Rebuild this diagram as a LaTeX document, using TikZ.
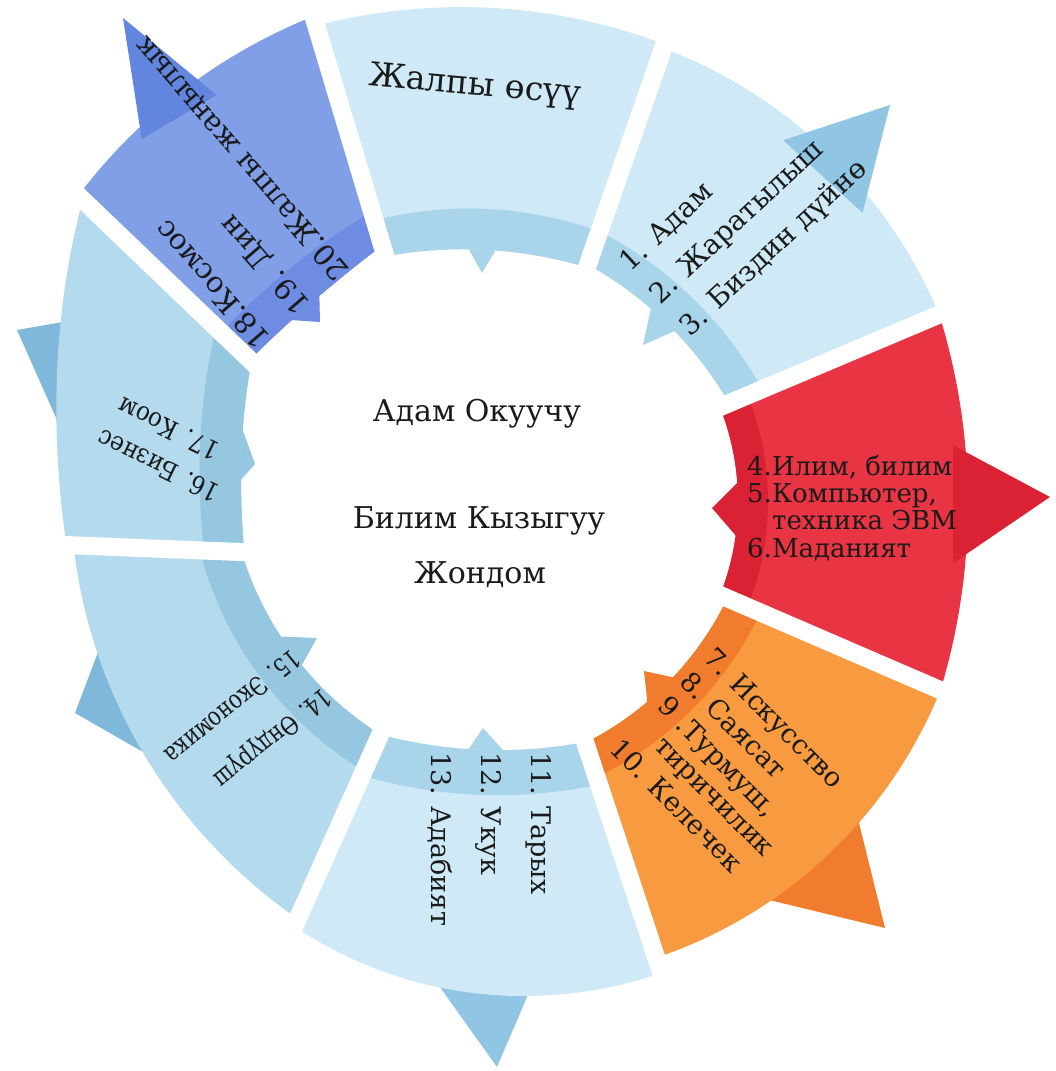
\documentclass[tikz,border=0pt]{standalone}
\usepackage{fontspec}
\setmainfont{DejaVu Serif}
\usetikzlibrary{calc}
\definecolor{lbA}{HTML}{CFEAF6}
\definecolor{lbB}{HTML}{A9D5EB}
\definecolor{lbC}{HTML}{90C6E4}
\definecolor{mbA}{HTML}{B4DAED}
\definecolor{mbB}{HTML}{95C7E1}
\definecolor{mbC}{HTML}{80B8DC}
\definecolor{puA}{HTML}{809FE7}
\definecolor{puB}{HTML}{6D8CE2}
\definecolor{puC}{HTML}{6285DE}
\definecolor{rdA}{HTML}{E93444}
\definecolor{rdB}{HTML}{DB2134}
\definecolor{orA}{HTML}{F89A40}
\definecolor{orB}{HTML}{F27C2E}
\definecolor{txt}{HTML}{1A1A1A}
\newcommand{\notch}[4]{\fill[#1] #2 -- ($#2!2!#3$) -- ($#2!2!#4$) -- cycle;}
\newcommand{\headbehind}[4]{\fill[#1] #2 -- ($#2!1.5!#3$) -- ($#2!1.5!#4$) -- cycle;}
\newcommand{\headtop}[4]{\fill[#1] #2 -- ($#2!1.1!#3$) -- ($#2!1.1!#4$) -- cycle;}
\begin{document}
\begin{tikzpicture}[x=1pt,y=1pt,
  arcout/.style n args={5}{insert path={plot[domain=0:1,samples=60,variable=\myt]
     ({(#1)+((#2)-(#1))*\myt}:{(#3)+((#5)-(#3))*\myt+4*((#4)-((#3)+(#5))/2)*\myt*(1-\myt)})}},
  arcin/.style n args={5}{insert path={-- plot[domain=0:1,samples=60,variable=\myt]
     ({(#1)+((#2)-(#1))*(1-\myt)}:{(#3)+((#5)-(#3))*(1-\myt)+4*((#4)-((#3)+(#5))/2)*\myt*(1-\myt)}) -- cycle}},
  lbl/.style={font=\fontsize{#1}{#1}\selectfont, text=txt, inner sep=0pt, anchor=base west},
  lbl/.default=26,
  ctr/.style={font=\fontsize{30}{30}\selectfont, text=txt, inner sep=0pt, anchor=base},
  gap/.style={white, line width=18pt},
]
\useasboundingbox (-490,-571) rectangle (566,500);
\fill[white] (-490,-571) rectangle (566,500);

% ---- arrow heads behind the segments
\headbehind{orB}{(395,-428)}{(300,-405)}{(370,-327)}
\headbehind{lbC}{(7,-567)}{(-43,-497)}{(40,-490)}
\headbehind{mbC}{(-415,-213)}{(-390,-147)}{(-347,-252)}
\headbehind{mbC}{(-473,170)}{(-433,177)}{(-433,80)}

% ---- inner notches
\notch{lbB}{(-8,227)}{(-22,252)}{(7,252)}
\notch{lbB}{(153,155)}{(160,187)}{(187,170)}
\notch{rdB}{(222,-8)}{(250,20)}{(247,-37)}
\notch{orB}{(154,-171)}{(187.5,-178.3)}{(157.7,-205.1)}
\notch{lbB}{(-7,-228)}{(-22,-250)}{(13,-250)}
\notch{mbB}{(-173,-138)}{(-197,-137)}{(-187,-163)}
\notch{mbB}{(-235,36)}{(-248,72)}{(-251,18)}
\notch{puB}{(-170,178)}{(-199.7,180)}{(-170.7,207.6)}

% ---- segments
\fill[lbA] [arcout={69}{110}{488}{492}{505}] [arcin={67.4}{113.2}{252}{250}{265}];
\fill[lbB] [arcout={67.4}{113.2}{290}{291}{303}] [arcin={67.4}{113.2}{252}{250}{265}];

\fill[lbA] [arcout={22.4}{69}{486}{485}{484}] [arcin={22}{67.4}{258}{250}{255}];
\fill[lbB] [arcout={22}{67.4}{294}{286}{290}] [arcin={22}{67.4}{258}{250}{255}];

\fill[rdA] [arcout={-22.9}{22.4}{489}{478}{486}] [arcin={-22.4}{22}{249}{248}{248}];
\fill[rdB] [arcout={-22.4}{22}{279}{278}{278}] [arcin={-22.4}{22}{249}{248}{248}];

\fill[orA] [arcout={-70.1}{-22.9}{487}{490}{489}] [arcin={-68.6}{-22.4}{261}{255}{257}];
\fill[orB] [arcout={-68.6}{-22.4}{297}{291}{293}] [arcin={-68.6}{-22.4}{261}{255}{257}];

\fill[lbA] [arcout={245.35}{289.9}{469}{493}{503}] [arcin={244.9}{291.4}{259}{250}{260}];
\fill[lbB] [arcout={244.9}{291.4}{304}{295}{305}] [arcin={244.9}{291.4}{259}{250}{260}];

\fill[mbA] [arcout={186}{245.35}{419}{429}{461}] [arcin={191.75}{244.9}{254}{250}{259}];
\fill[mbB] [arcout={191.75}{244.9}{294}{290}{299}] [arcin={191.75}{244.9}{254}{250}{259}];

\fill[mbA] [arcout={143.6}{186}{506}{449}{426}] [arcin={149.7}{191.75}{276}{252}{251}];
\fill[mbB] [arcout={149.7}{191.75}{320}{294}{291}] [arcin={149.7}{191.75}{276}{252}{251}];

\fill[puA] [arcout={110}{143.6}{515}{512}{512}] [arcin={113.2}{149.7}{276}{266}{278}];
\fill[puB] [arcout={113.2}{149.7}{311}{306}{318}] [arcin={113.2}{149.7}{276}{266}{278}];

% ---- arrow heads on top
\headtop{lbC}{(400,395)}{(303,363)}{(375,297)}
\headtop{rdB}{(560,3)}{(472,50)}{(472,-57)}
\headtop{puC}{(-367,482)}{(-350,372)}{(-282,412)}

% ---- gaps
\draw[gap] ($(97,233)!-0.6!(175,457)$) -- ($(97,233)!1.5!(175,457)$);
\draw[gap] ($(235,95)!-0.6!(460,190)$) -- ($(235,95)!1.5!(460,190)$);
\draw[gap] ($(230,-95)!-0.6!(450,-190)$) -- ($(230,-95)!1.5!(450,-190)$);
\draw[gap] ($(95,-242)!-0.6!(172,-475)$) -- ($(95,-242)!1.5!(172,-475)$);
\draw[gap] ($(-110,-235)!-0.6!(-195,-425)$) -- ($(-110,-235)!1.5!(-195,-425)$);
\draw[gap] ($(-250,-52)!-0.6!(-425,-45)$) -- ($(-250,-52)!1.5!(-425,-45)$);
\draw[gap] ($(-240,140)!-0.6!(-407,300)$) -- ($(-240,140)!1.5!(-407,300)$);
\draw[gap] ($(-105,245)!-0.6!(-180,495)$) -- ($(-105,245)!1.5!(-180,495)$);

% ---- centre text
\node[ctr] (c1) at (-13,78) {Адам Окуучу};
\node[ctr] (c2) at (-11,-28) {Билим Кызыгуу};
\node[ctr] (c3) at (-10,-83) {Жондом};

% ---- segment texts
\node[font=\fontsize{33}{33}\selectfont, text=txt, inner sep=0pt, anchor=base, rotate=-5] (t0) at (-16,405) {Жалпы өсүү};

\begin{scope}[shift={(140,227)}, rotate=43, transform shape]
\node[lbl=28] (t1) at (0,0) {1. Адам};
\node[lbl=28] (t2) at (0,-44) {2. Жаратылыш};
\node[lbl=28] (t3) at (0,-88) {3. Биздин дүйнө};
\end{scope}

\node[lbl] (t4) at (257,25) {4.Илим, билим};
\node[lbl] (t5) at (257,-2.3) {5.Компьютер,};
\node[lbl] (t5b) at (282,-29.6) {техника ЭВМ};
\node[lbl] (t6) at (257,-57) {6.Маданият};

\begin{scope}[shift={(212,-159)}, rotate=-45, transform shape]
\node[lbl=27] (t7) at (0,0) {7. Искусство};
\node[lbl=27] (t8) at (0,-34) {8. Саясат};
\node[lbl=27] (t9) at (2,-67) {9 .Турмуш,};
\node[lbl=27] (t9b) at (28,-97) {тиричилик};
\node[lbl=27] (t10) at (-2,-131) {10. Келечек};
\end{scope}

\begin{scope}[shift={(42,-252)}, rotate=-90, transform shape]
\node[lbl=27] (t11) at (0,0) {11. Тарых};
\node[lbl=27] (t12) at (0,-50) {12. Укук};
\node[lbl=27] (t13) at (0,-100) {13. Адабият};
\end{scope}

\begin{scope}[shift={(-167,-187)}, rotate=219, xscale=0.8, transform shape]
\node[lbl=26] (t14) at (0,0) {14. Өндүрүш};
\node[lbl=26] (t15) at (0,-50) {15. Экономика};
\end{scope}

\begin{scope}[shift={(-268,13)}, rotate=154, xscale=0.88, transform shape]
\node[lbl=26] (t16) at (0,0) {16. Бизнес};
\node[lbl=26] (t17) at (21,-38) {17. Коом};
\end{scope}

\begin{scope}[shift={(-218,162)}, rotate=131, transform shape]
\node[lbl=29] (t18) at (0,0) {18.Космос};
\node[lbl=29] (t19) at (0,-52) {19. Дин};
\node[lbl=29] (t20) at (0,-104) {20.Жалпы жаңылык};
\end{scope}
\end{tikzpicture}
\end{document}
